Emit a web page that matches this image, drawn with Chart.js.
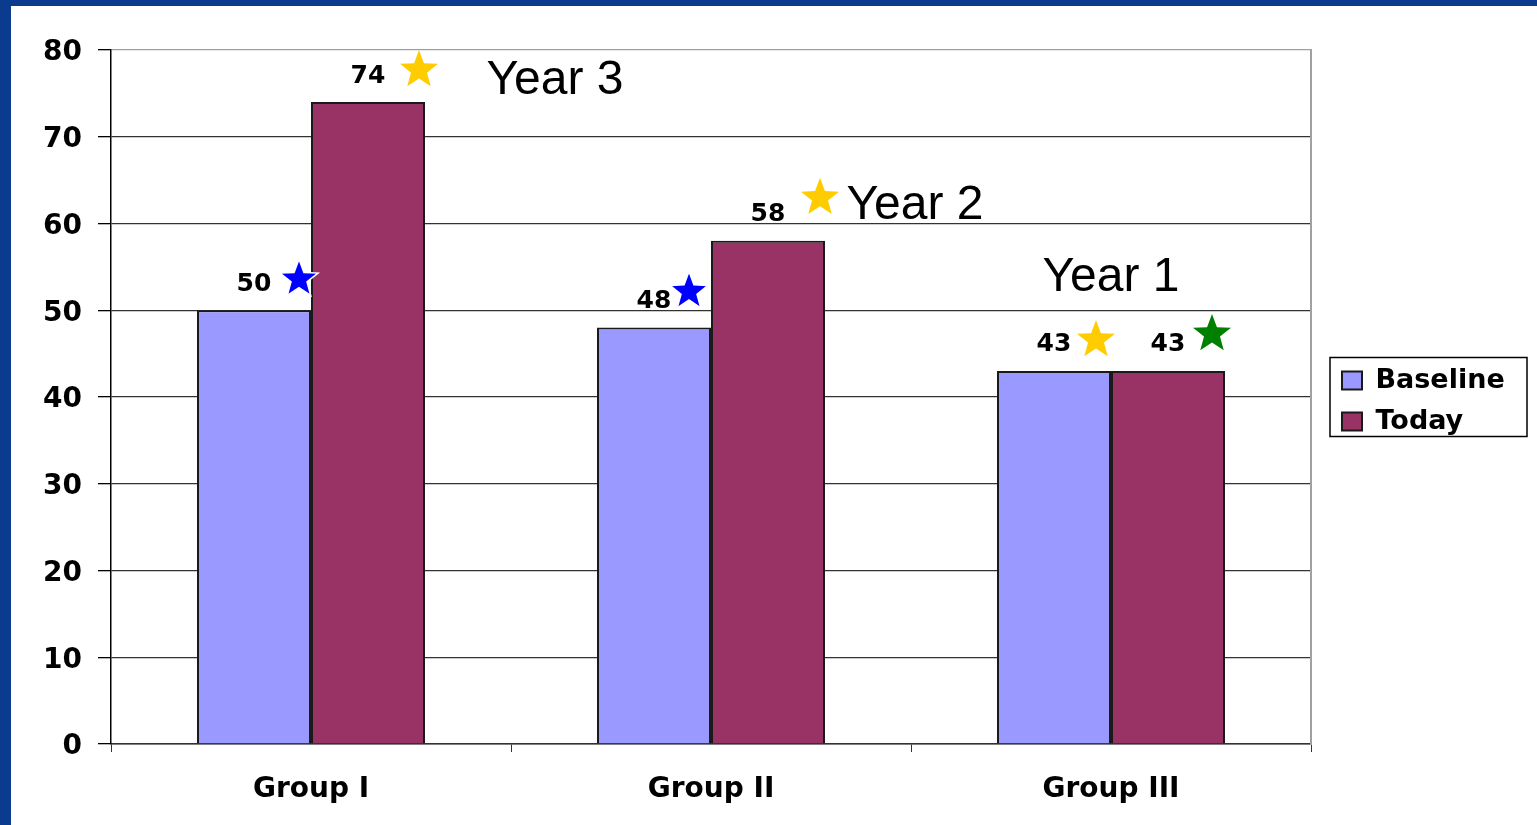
<!DOCTYPE html>
<html>
<head>
<meta charset="utf-8">
<script src="https://cdn.jsdelivr.net/npm/chart.js@4.4.1/dist/chart.umd.min.js"></script>
<style>
  html, body { margin: 0; padding: 0; background: #fff; }
  #frame {
    position: absolute; left: 0; top: 0;
    width: 1526px; height: 819px;
    border-left: 11px solid #0b3b8f;
    border-top: 6px solid #0b3b8f;
    background: #fff;
  }
  canvas { display: block; }
</style>
</head>
<body>
<div id="frame"><canvas id="myChart" width="1526" height="819"></canvas></div>
<script>
// data
const groups = ["Group I", "Group II", "Group III"];
const baseline = [50, 48, 43];
const today = [74, 58, 43];

// "Year" notes, placed in data units (category index, value)
const yearText = ["Year 3", "Year 2", "Year 1"];
const yearAtX = [0.61, 1.51, 2.0];
const yearAtY = [76.45, 62.0, 53.75];

// stars next to the value labels
const starColors = [
  ["#0000ff", "#0000ff", "#ffcc00"],
  ["#ffcc00", "#ffcc00", "#008000"],
];
const starDx = [[45, 35, 42], [51, 52, 44]];
const starDy = [[-3, -8, -3], [-4, -15, -9]];

const FONT = "'DejaVu Sans', sans-serif";
const LEGEND_W = 209;

function drawStar(ctx, cx, cy, r, color, outline) {
  ctx.save();
  ctx.beginPath();
  for (let i = 0; i < 10; i++) {
    const rad = i % 2 === 0 ? r : r * 0.42;
    const a = -Math.PI / 2 + (i * Math.PI) / 5;
    const px = cx + rad * Math.cos(a);
    const py = cy + rad * Math.sin(a);
    if (i === 0) ctx.moveTo(px, py);
    else ctx.lineTo(px, py);
  }
  ctx.closePath();
  ctx.fillStyle = color;
  ctx.fill();
  if (outline) {
    ctx.strokeStyle = "#fff";
    ctx.lineWidth = 1.5;
    ctx.stroke();
  }
  ctx.restore();
}

const notes = {
  id: "notes",
  afterInit(chart) {
    // keep the legend at a fixed width
    const lg = chart.legend;
    if (lg && !lg._fixed) {
      const f = lg.fit;
      lg.fit = function () {
        f.call(this);
        this.width = LEGEND_W;
      };
      lg._fixed = true;
    }
  },
  afterDatasetsDraw(chart) {
    const ctx = chart.ctx;
    ctx.save();
    chart.data.datasets.forEach((ds, d) => {
      const meta = chart.getDatasetMeta(d);
      meta.data.forEach((bar, i) => {
        const ty = bar.y - 26;
        ctx.font = "bold 25px " + FONT;
        ctx.fillStyle = "#000";
        ctx.textAlign = "center";
        ctx.textBaseline = "middle";
        ctx.fillText(String(ds.data[i]), bar.x, ty);
        const col = starColors[d][i];
        drawStar(ctx, bar.x + starDx[d][i], ty + starDy[d][i] - 2, 20, col, col === "#0000ff");
      });
    });
    const xs = chart.scales.x, ys = chart.scales.y;
    ctx.font = "48px 'Liberation Sans', Arial, sans-serif";
    ctx.fillStyle = "#000";
    ctx.textAlign = "center";
    ctx.textBaseline = "middle";
    yearText.forEach((t, i) => {
      ctx.fillText(t, xs.getPixelForValue(yearAtX[i]), ys.getPixelForValue(yearAtY[i]));
    });
    ctx.restore();
  },
  afterDraw(chart) {
    const lg = chart.legend;
    if (!lg) return;
    const ctx = chart.ctx;
    const cy = (lg.top + lg.bottom) / 2;
    ctx.save();
    ctx.strokeStyle = "#000";
    ctx.lineWidth = 1.5;
    ctx.strokeRect(lg.left + 2, cy - 39.5, lg.width - 12, 79);
    ctx.restore();
  },
};

const myChart = new Chart(document.getElementById("myChart"), {
  type: "bar",
  data: {
    labels: groups,
    datasets: [
      {
        label: "Baseline",
        data: baseline,
        backgroundColor: "#9999ff",
        borderColor: "#1a1a1a",
        borderWidth: 2,
      },
      {
        label: "Today",
        data: today,
        backgroundColor: "#993366",
        borderColor: "#1a1a1a",
        borderWidth: 2,
      },
    ],
  },
  options: {
    responsive: false,
    animation: false,
    devicePixelRatio: 1,
    categoryPercentage: 0.57,
    barPercentage: 1,
    layout: { padding: { top: 44, left: 0, right: 0, bottom: 0 } },
    scales: {
      x: {
        ticks: { color: "#000", padding: 21, font: { family: FONT, size: 28, weight: "bold" } },
        grid: { drawOnChartArea: false, color: "#333", tickLength: 8, offset: true },
        border: { color: "#333", width: 1.5 },
        afterFit: (s) => { s.height = 81; },
      },
      y: {
        min: 0,
        max: 80,
        ticks: { stepSize: 10, color: "#000", padding: 16, labelOffset: 3, font: { family: FONT, size: 28, weight: "bold" } },
        grid: {
          color: (c) => (c.tick && c.tick.value === 80 ? "#a0a0a0" : "#333"),
          lineWidth: 1.3,
          tickColor: "#000",
          tickLength: 13,
        },
        border: { color: "#000", width: 1.5 },
        afterFit: (s) => { s.width = 100; },
      },
      y2: {
        position: "right",
        display: true,
        ticks: { display: false },
        grid: { drawOnChartArea: false, drawTicks: false },
        border: { color: "#a0a0a0", width: 2 },
        afterFit: (s) => { s.width = 17; },
      },
    },
    plugins: {
      tooltip: { enabled: false },
      legend: {
        position: "right",
        fullSize: false,
        align: "center",
        title: { display: true, text: " ", font: { size: 1 }, padding: 3.5 },
        labels: {
          boxWidth: 20,
          boxHeight: 18,
          padding: 14,
          color: "#000",
          font: { family: FONT, size: 27, weight: "bold" },
        },
      },
    },
  },
  plugins: [notes],
});
</script>
</body>
</html>
